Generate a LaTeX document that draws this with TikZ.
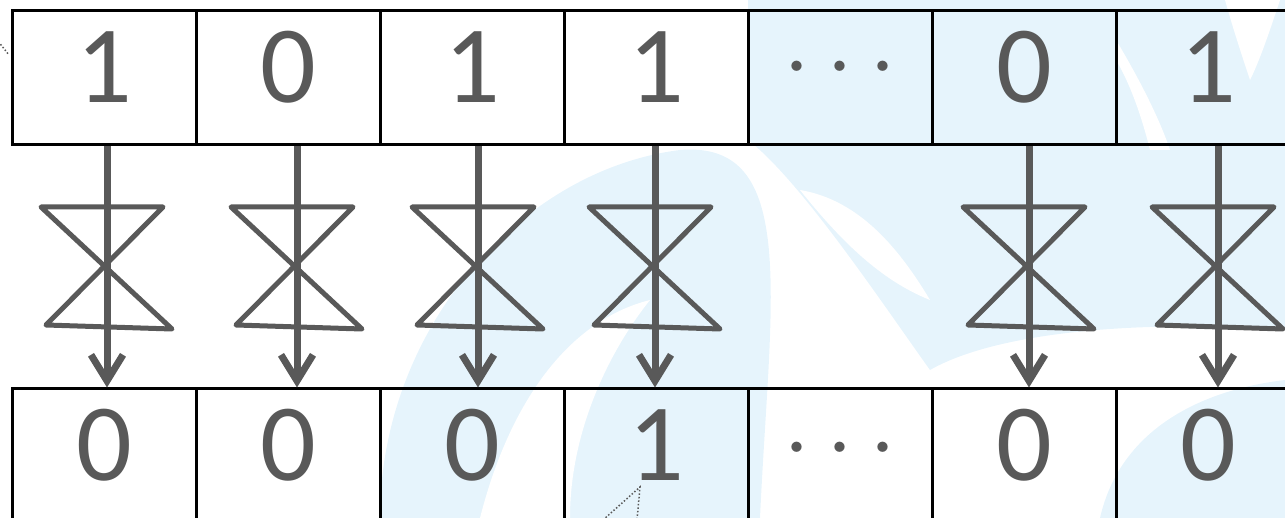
\documentclass[tikz,border=0pt]{standalone}
\usepackage{fontspec}
\setmainfont{Carlito}
\usetikzlibrary{arrows.meta,calc}
\definecolor{ink}{HTML}{595959}
\definecolor{wm}{HTML}{E6F4FC}
\tikzset{
  cell/.style={draw=black,line width=3pt,minimum width=184pt,minimum height=134pt,inner sep=0pt},
  digit/.style={text=ink,inner sep=0pt,font=\fontsize{110pt}{110pt}\selectfont},
  dotsnode/.style={text=ink,inner sep=0pt,anchor=base,font=\normalsize},
  conn/.style={draw=ink,line width=7pt,-{Straight Barb[length=26pt,width=32pt,line width=7pt]}},
  tie/.style={draw=ink,line width=5pt,line join=round,line cap=round},
  pointer/.style={draw=ink,line width=1.5pt,dotted},
  bowtie/.pic={
    \draw[tie] (-66,-60) -- (56,-60) -- (-61,58) -- (65,62) -- cycle;
  }
}
\begin{document}
\begin{tikzpicture}[x=1pt,y=-1pt]
\useasboundingbox (0,0) rectangle (1285,518);
\clip (0,0) rectangle (1285,518);
% watermark background
\fill[wm] (380,518) .. controls (380,330) and (520,170) .. (680,150)
          .. controls (800,140) and (770,300) .. (760,518) -- cycle;
\fill[white] (480,518) .. controls (510,400) and (570,320) .. (650,300)
          .. controls (610,350) and (570,430) .. (570,518) -- cycle;
\fill[wm] (748,0) -- (1285,0) -- (1285,330) .. controls (1150,320) and (1000,330) .. (930,370)
          .. controls (880,300) and (800,180) .. (748,140) -- cycle;
\fill[white] (800,190) .. controls (860,200) and (900,250) .. (930,300)
          .. controls (880,280) and (840,240) .. (800,190) -- cycle;
\fill[white] (1225,0) -- (1280,0) .. controls (1270,30) and (1260,60) .. (1250,80)
          .. controls (1240,50) and (1232,25) .. (1225,0) -- cycle;
\fill[white] (1116,40) .. controls (1140,80) and (1160,120) .. (1170,150)
          -- (1150,150) .. controls (1140,110) and (1128,80) .. (1116,60) -- cycle;
\fill[wm] (1100,518) .. controls (1120,430) and (1200,390) .. (1285,380) -- (1285,518) -- cycle;
% cells
\foreach \i in {1,...,7}{
  \node[cell] (t\i) at ({104+184*(\i-1)},78) {};
  \node[cell] (b\i) at ({104+184*(\i-1)},456) {};
}
\foreach \v/\i in {1/1,0/2,1/3,1/4,0/6,1/7}{
  \node[digit] (tv\i) at ({104+184*(\i-1)},67) {\v};
}
\foreach \v/\i in {0/1,0/2,0/3,1/4,0/6,0/7}{
  \node[digit] (bv\i) at ({104+184*(\i-1)},445) {\v};
}
\node[dotsnode] (tdots) at (840,91) {\scalebox{9.7}{$\cdots$}};
\node[dotsnode] (bdots) at (840,471) {\scalebox{9.7}{$\cdots$}};
% switches
\foreach \i/\dx in {1/3,2/9,3/6,4/-1,6/5,7/10}{
  \draw[conn] ([xshift=\dx pt]t\i.south) -- ([xshift=\dx pt]b\i.north);
  \path ($(t\i.south)!0.5!(b\i.north)+(\dx,0)$) pic {bowtie};
}
% dotted pointers
\coordinate (p0) at (-6,36);
\coordinate (p1) at (9,55);
\draw[pointer] (p0) -- (p1);
\coordinate (q0) at (640,487);
\coordinate (q1) at (603,520);
\coordinate (q2) at (637,520);
\draw[pointer] (q1) -- (q0) -- (q2);
\end{tikzpicture}
\end{document}
